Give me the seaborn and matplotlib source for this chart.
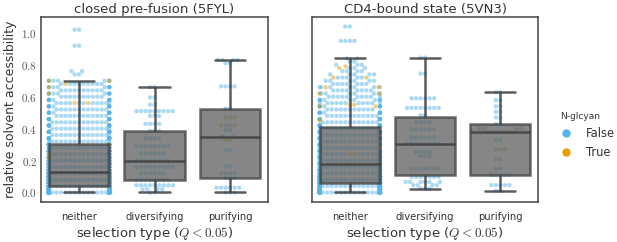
import warnings
import pandas as pd
import matplotlib
matplotlib.use("Agg")
import matplotlib.pyplot as plt
from matplotlib.lines import Line2D
import seaborn as sns

warnings.filterwarnings("ignore")

STRUCTURES = ["closed pre-fusion (5FYL)", "CD4-bound state (5VN3)"]
SELECTIONS = ["neither", "diversifying", "purifying"]

# RSA values read off the swarms, binned: value -> number of points (non glycan sites)
fyl_neither_rsa = [0.00, 0.02, 0.04, 0.06, 0.08, 0.10, 0.12, 0.14, 0.16, 0.18, 0.20, 0.22,
                   0.24, 0.26, 0.28, 0.30, 0.32, 0.34, 0.36, 0.38, 0.40, 0.42, 0.44, 0.46,
                   0.48, 0.50, 0.52, 0.54, 0.56, 0.58, 0.60, 0.62, 0.64, 0.66, 0.68, 0.70,
                   0.74, 0.76, 0.92, 1.02]
fyl_neither_n = [88, 82, 82, 70, 64, 58, 56, 34, 32, 30, 28, 26,
                 25, 25, 24, 23, 15, 15, 14, 14, 14, 13, 13, 13,
                 12, 12, 12, 11, 11, 11, 10, 10, 10, 9, 9, 7,
                 2, 2, 2, 2]
fyl_neither_glycan = [0.22, 0.24, 0.30, 0.56, 0.56, 0.62, 0.66, 0.68, 0.70, 0.70]

fyl_div_rsa = [0.00, 0.02, 0.045, 0.08, 0.12, 0.16, 0.20, 0.245, 0.29, 0.34, 0.386,
               0.43, 0.48, 0.51, 0.55, 0.595, 0.66]
fyl_div_n = [2, 4, 9, 8, 6, 9, 8, 6, 8, 4, 3, 4, 3, 9, 2, 2, 2]
fyl_div_glycan = []

fyl_pur_rsa = [0.00, 0.03, 0.09, 0.12, 0.165, 0.265, 0.35, 0.39, 0.42, 0.47, 0.526,
               0.665, 0.81, 0.83]
fyl_pur_n = [3, 6, 3, 4, 2, 2, 2, 2, 2, 1, 2, 4, 2, 4]
fyl_pur_glycan = [0.33, 0.33, 0.42, 0.42, 0.47, 0.47]

vn3_neither_rsa = [0.00, 0.02, 0.04, 0.06, 0.08, 0.10, 0.12, 0.14, 0.16, 0.18, 0.20, 0.22,
                   0.24, 0.26, 0.28, 0.30, 0.32, 0.34, 0.36, 0.38, 0.40, 0.42, 0.44, 0.46,
                   0.48, 0.50, 0.52, 0.54, 0.56, 0.58, 0.60, 0.62, 0.64, 0.66, 0.68, 0.70,
                   0.72, 0.74, 0.76, 0.78, 0.80, 0.82, 0.84, 0.95, 1.04]
vn3_neither_n = [60, 60, 60, 55, 42, 36, 30, 25, 19, 20, 18, 17,
                 16, 16, 16, 15, 15, 15, 15, 14, 14, 13, 13, 12,
                 12, 12, 11, 10, 11, 11, 10, 8, 8, 7, 7, 6,
                 5, 5, 4, 3, 3, 2, 2, 4, 2]
vn3_neither_glycan = [0.24, 0.24, 0.29, 0.45, 0.54, 0.54, 0.55, 0.55, 0.62, 0.62,
                      0.66, 0.66, 0.72, 0.72, 0.78, 0.79]

vn3_div_rsa = [0.025, 0.046, 0.066, 0.098, 0.15, 0.227, 0.254, 0.305, 0.345, 0.395,
               0.44, 0.484, 0.53, 0.59, 0.745, 0.845]
vn3_div_n = [3, 4, 6, 7, 7, 3, 4, 8, 6, 6, 4, 2, 8, 6, 2, 2]
vn3_div_glycan = []

vn3_pur_rsa = [0.01, 0.046, 0.11, 0.15, 0.21, 0.27, 0.33, 0.38, 0.40, 0.43, 0.47,
               0.505, 0.54, 0.578, 0.628]
vn3_pur_n = [2, 5, 5, 2, 2, 1, 2, 3, 4, 2, 2, 2, 2, 2, 2]
vn3_pur_glycan = [0.27, 0.27, 0.38, 0.38, 0.38, 0.38]

groups = [
    (STRUCTURES[0], "neither", fyl_neither_rsa, fyl_neither_n, fyl_neither_glycan),
    (STRUCTURES[0], "diversifying", fyl_div_rsa, fyl_div_n, fyl_div_glycan),
    (STRUCTURES[0], "purifying", fyl_pur_rsa, fyl_pur_n, fyl_pur_glycan),
    (STRUCTURES[1], "neither", vn3_neither_rsa, vn3_neither_n, vn3_neither_glycan),
    (STRUCTURES[1], "diversifying", vn3_div_rsa, vn3_div_n, vn3_div_glycan),
    (STRUCTURES[1], "purifying", vn3_pur_rsa, vn3_pur_n, vn3_pur_glycan),
]

rows = []
for structure, selection, rsa, counts, glycan in groups:
    for v, c in zip(rsa, counts):
        rows += [(structure, selection, v, False)] * c
    for v in glycan:
        rows.append((structure, selection, v, True))
df = pd.DataFrame(rows, columns=["structure", "selection", "rsa", "glycan"])

sns.set_style("white")
plt.rcParams["mathtext.fontset"] = "cm"
plt.rcParams["font.family"] = ["DejaVu Sans"]

BLUE = "#56B4E9"
ORANGE = "#E69F00"
TEXT = "#333333"

fig = plt.figure(figsize=(6.17, 2.42), dpi=100)
ax_left = fig.add_axes([0.067, 0.165, 0.367, 0.765])
ax_right = fig.add_axes([0.506, 0.165, 0.366, 0.765], sharey=ax_left)

for ax, structure in zip([ax_left, ax_right], STRUCTURES):
    sub = df[df["structure"] == structure]
    sns.swarmplot(data=sub, x="selection", y="rsa", hue="glycan", order=SELECTIONS,
                  hue_order=[False, True], palette={False: BLUE, True: ORANGE},
                  size=3.1, alpha=0.5, legend=False, ax=ax)
    sns.boxplot(data=sub, x="selection", y="rsa", order=SELECTIONS, color="#5e5e5e",
                saturation=1, linecolor="#3f3f3f", linewidth=1.8, showfliers=False,
                width=0.8, ax=ax)
    for p in ax.patches:
        p.set_alpha(0.75)
        p.set_zorder(3)
    for ln in ax.lines:
        ln.set_alpha(0.85)
        ln.set_zorder(3.5)

    ax.set_title(structure, fontsize=9.5, color=TEXT, pad=3)
    ax.set_xlabel("selection type ($Q < 0.05$)", fontsize=9.5, color=TEXT, labelpad=2)
    ax.tick_params(axis="x", length=0, pad=7, labelsize=7.2, labelcolor=TEXT)
    ax.tick_params(axis="y", length=0, pad=3)
    for s in ax.spines.values():
        s.set_color("#444444")
        s.set_linewidth(1.1)

ax_left.set_ylim(-0.06, 1.10)
ax_left.set_yticks([0.0, 0.2, 0.4, 0.6, 0.8, 1.0])
ax_left.set_yticklabels([f"${t:.1f}$" for t in [0.0, 0.2, 0.4, 0.6, 0.8, 1.0]],
                        fontsize=8, color="#555555")
ax_left.set_ylabel("relative solvent accessibility", fontsize=9, color=TEXT, labelpad=3)
ax_right.set_ylabel("")
ax_right.tick_params(axis="y", labelleft=False)

handles = [Line2D([], [], marker="o", linestyle="", color=BLUE, markersize=5),
           Line2D([], [], marker="o", linestyle="", color=ORANGE, markersize=5)]
leg = fig.legend(handles, ["False", "True"], title="N-glcyan", loc="upper left",
                 bbox_to_anchor=(0.893, 0.575), frameon=False, fontsize=8.3,
                 title_fontsize=6.5, handlelength=1.0, handletextpad=1.2,
                 labelspacing=0.5, borderpad=0.3)
leg._legend_box.align = "left"
for t in leg.get_texts():
    t.set_color(TEXT)
leg.get_title().set_color(TEXT)

fig.savefig("out.png", dpi=100)
